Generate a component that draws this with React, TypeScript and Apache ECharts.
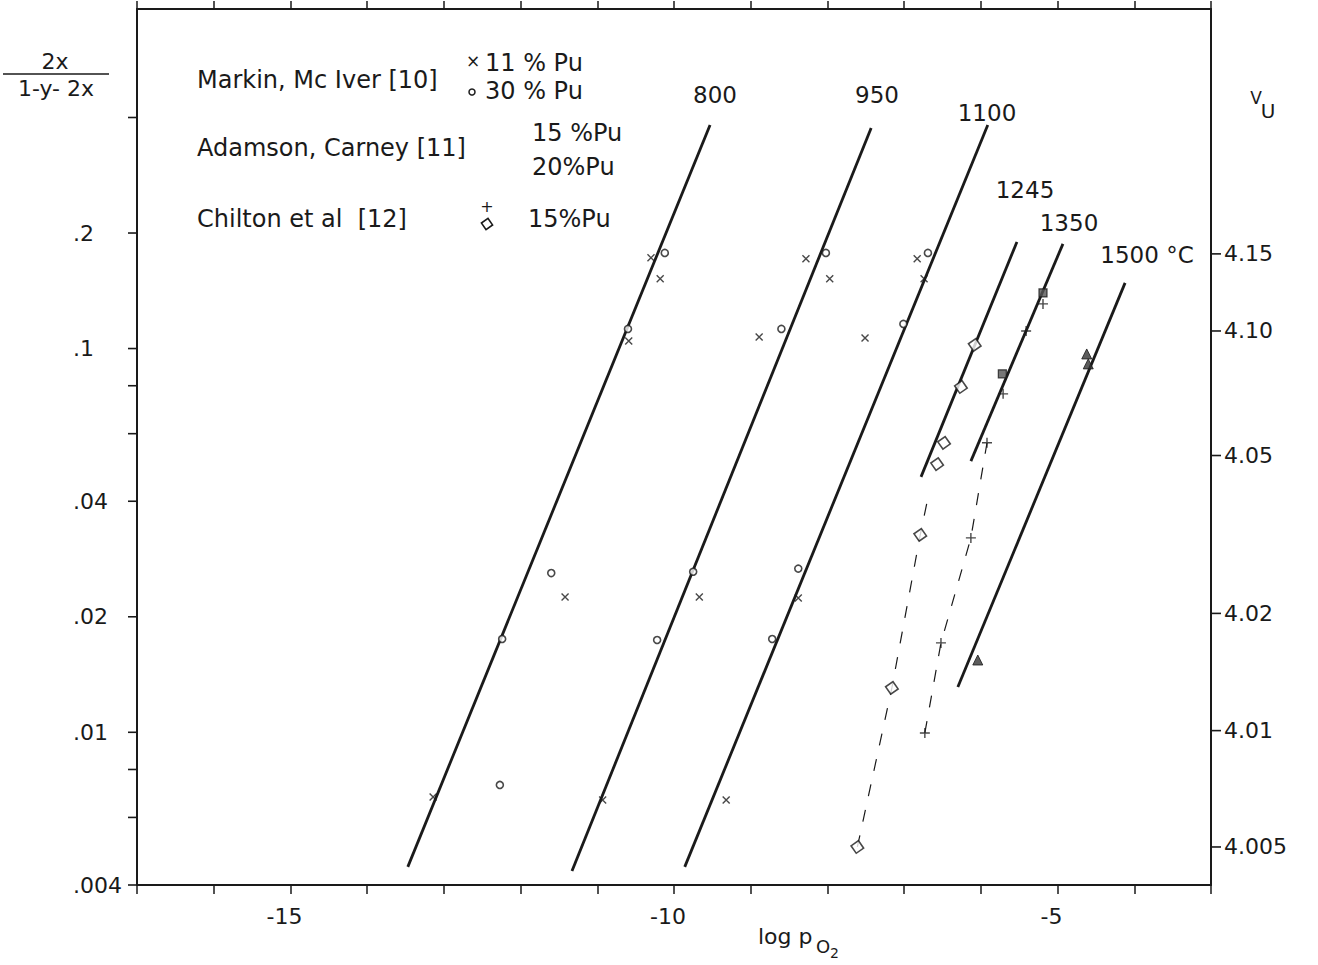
import React, { useEffect, useRef } from "react";
import * as echarts from "echarts";

const INK = "#1a1a1a";
const FONT = "'DejaVu Sans', 'Liberation Sans', sans-serif";

// Axis ranges
const X_MIN = -17;
const X_MAX = -3;
const Y_MIN = 0.004;
const Y_MAX = 0.767;

// Left axis ticks (2x / (1-y-2x))
const leftTickValues = [0.004, 0.006, 0.008, 0.01, 0.02, 0.04, 0.06, 0.08, 0.1, 0.2, 0.4];
const leftTickLabels = [".004", "", "", ".01", ".02", ".04", "", "", ".1", ".2", ""];
// Right axis ticks (V_U)
const rightTickValence = [4.005, 4.01, 4.02, 4.05, 4.1, 4.15];
const rightTickLabels = ["4.005", "4.01", "4.02", "4.05", "4.10", "4.15"];

// Isotherms (solid) [log pO2, 2x/(1-y-2x)]
const iso800 = [[-13.47, 0.00446], [-9.53, 0.3826]];
const iso950 = [[-11.33, 0.00435], [-7.43, 0.3758]];
const iso1100 = [[-9.86, 0.00446], [-5.91, 0.3826]];
const iso1245 = [[-6.78, 0.0463], [-5.53, 0.1896]];
const iso1350 = [[-6.13, 0.0509], [-4.93, 0.1874]];
const iso1500 = [[-6.3, 0.01312], [-4.12, 0.1483]];

// Dashed curves through Chilton data
const dashed1245 = [[-7.61, 0.005025], [-7.16, 0.01305], [-6.79, 0.0327], [-6.69, 0.0408]];
const dashed1350 = [[-6.73, 0.00996], [-6.52, 0.0171], [-6.13, 0.0321], [-5.92, 0.0568]];

// Markin, McIver: x = 11 % Pu
const markin11 = [
  [-13.14, 0.00678], [-11.42, 0.02253], [-10.59, 0.1047], [-10.18, 0.1519], [-10.3, 0.1723],
  [-10.93, 0.00666], [-9.67, 0.02253], [-8.89, 0.1072], [-8.28, 0.1713], [-7.97, 0.1519],
  [-9.32, 0.00666], [-8.38, 0.0224], [-7.51, 0.1066], [-6.83, 0.1713], [-6.74, 0.1519],
];
// Markin, McIver: o = 30 % Pu
const markin30 = [
  [-12.27, 0.00729], [-12.24, 0.0175], [-11.6, 0.026], [-10.6, 0.1125], [-10.12, 0.1775],
  [-10.22, 0.0174], [-9.75, 0.0262], [-8.6, 0.1125], [-8.02, 0.1775],
  [-8.72, 0.0175], [-8.38, 0.0267], [-7.01, 0.1159], [-6.69, 0.1775],
];
// Adamson, Carney
const adamson15 = [[-5.19, 0.1396], [-5.72, 0.0859]];
const adamson20 = [[-4.62, 0.0968], [-4.6, 0.0912], [-6.04, 0.01543]];
// Chilton et al: + and diamond, 15 % Pu
const chiltonPlus = [
  [-6.73, 0.00996], [-6.52, 0.0171], [-6.13, 0.0321], [-5.92, 0.0568],
  [-5.71, 0.0762], [-5.41, 0.1111], [-5.19, 0.1307],
];
const chiltonDiamond = [
  [-7.61, 0.005025], [-7.16, 0.01305], [-6.79, 0.0327], [-6.57, 0.05],
  [-6.48, 0.0568], [-6.26, 0.0794], [-6.08, 0.1022],
];

const CROSS = "path://M0,0L10,10M10,0L0,10";
const PLUS = "path://M5,0L5,10M0,5L10,5";

function solid(data: number[][]) {
  return {
    type: "line",
    data,
    showSymbol: false,
    symbol: "none",
    silent: true,
    z: 2,
    lineStyle: { color: INK, width: 2.8 },
  };
}
function dashed(data: number[][]) {
  return {
    type: "line",
    data,
    showSymbol: false,
    symbol: "none",
    silent: true,
    z: 2,
    lineStyle: { color: INK, width: 1.2, type: [12, 14] },
  };
}

function txt(text: string, x: number, y: number, size: number, align = "left") {
  return {
    type: "text",
    x,
    y,
    style: { text, fill: INK, fontSize: size, fontFamily: FONT, align, verticalAlign: "middle" },
  };
}

export default function App() {
  const ref = useRef<HTMLDivElement>(null);
  useEffect(() => {
    if (!ref.current) return;
    const chart = echarts.init(ref.current, undefined, { renderer: "svg" });
    const option: any = {
      animation: false,
      backgroundColor: "#ffffff",
      grid: { left: 137, right: 107, top: 9, bottom: 80 },
      xAxis: [
        {
          type: "value",
          min: X_MIN,
          max: X_MAX,
          interval: 1,
          position: "bottom",
          axisLine: { lineStyle: { color: INK, width: 2 } },
          axisTick: { show: true, inside: false, length: 9, lineStyle: { color: INK, width: 1.5 } },
          axisLabel: {
            formatter: (v: number) => (v % 5 === 0 ? String(v) : ""),
            color: INK,
            fontSize: 22,
            fontFamily: FONT,
            margin: 20,
            padding: [0, 12, 0, 0],
          },
          splitLine: { show: false },
        },
        {
          type: "value",
          min: X_MIN,
          max: X_MAX,
          interval: 1,
          position: "top",
          axisLine: { lineStyle: { color: INK, width: 2 } },
          axisTick: { show: true, inside: false, length: 8, lineStyle: { color: INK, width: 1.5 } },
          axisLabel: { show: false },
          splitLine: { show: false },
        },
      ],
      yAxis: [
        {
          type: "log",
          logBase: 10,
          min: Y_MIN,
          max: Y_MAX,
          position: "left",
          axisLine: { show: true, lineStyle: { color: INK, width: 2 } },
          axisTick: { show: false },
          axisLabel: { show: false },
          splitLine: { show: false },
        },
        {
          type: "log",
          logBase: 10,
          min: Y_MIN,
          max: Y_MAX,
          position: "right",
          axisLine: { show: true, lineStyle: { color: INK, width: 2 } },
          axisTick: { show: false },
          axisLabel: { show: false },
          splitLine: { show: false },
        },
      ],
      series: [
        solid(iso800),
        solid(iso950),
        solid(iso1100),
        solid(iso1245),
        solid(iso1350),
        solid(iso1500),
        dashed(dashed1245),
        dashed(dashed1350),
        {
          type: "scatter",
          data: markin11,
          symbol: CROSS,
          symbolSize: 7,
          z: 4,
          itemStyle: { color: "none", borderColor: INK, borderWidth: 1.4 },
        },
        {
          type: "scatter",
          data: markin30,
          symbol: "circle",
          symbolSize: 7,
          z: 4,
          itemStyle: { color: "#ffffff", borderColor: INK, borderWidth: 1.6 },
        },
        {
          type: "scatter",
          data: adamson15,
          symbol: "rect",
          symbolSize: 8,
          z: 4,
          itemStyle: { color: "#555555", borderColor: INK, borderWidth: 1.2 },
        },
        {
          type: "scatter",
          data: adamson20,
          symbol: "triangle",
          symbolSize: 10,
          z: 4,
          itemStyle: { color: "#333333", borderColor: INK, borderWidth: 1 },
        },
        {
          type: "scatter",
          data: chiltonPlus,
          symbol: PLUS,
          symbolSize: 10,
          z: 4,
          itemStyle: { color: "none", borderColor: INK, borderWidth: 1.4 },
        },
        {
          type: "scatter",
          data: chiltonDiamond,
          symbol: "rect",
          symbolRotate: 35,
          symbolSize: 9,
          z: 4,
          itemStyle: { color: "#ffffff", borderColor: INK, borderWidth: 1.6 },
        },
        {
          type: "custom",
          silent: true,
          clip: false,
          z: 6,
          data: leftTickValues.map((v) => [X_MIN, v]),
          renderItem: (params: any, api: any) => {
            const i = params.dataIndex;
            const p = api.coord([api.value(0), api.value(1)]);
            const children: any[] = [
              {
                type: "line",
                shape: { x1: p[0] - 9, y1: p[1], x2: p[0], y2: p[1] },
                style: { stroke: INK, lineWidth: 1.6 },
              },
            ];
            if (leftTickLabels[i]) {
              children.push({
                type: "text",
                x: p[0] - 64,
                y: p[1],
                style: {
                  text: leftTickLabels[i],
                  fill: INK,
                  fontSize: 22,
                  fontFamily: FONT,
                  align: "left",
                  verticalAlign: "middle",
                },
              });
            }
            return { type: "group", children };
          },
        },
        {
          type: "custom",
          silent: true,
          clip: false,
          z: 6,
          data: rightTickValence.map((v) => [X_MAX, (v - 4) / (1 - (v - 4))]),
          renderItem: (params: any, api: any) => {
            const i = params.dataIndex;
            const p = api.coord([api.value(0), api.value(1)]);
            return {
              type: "group",
              children: [
                {
                  type: "line",
                  shape: { x1: p[0], y1: p[1], x2: p[0] + 10, y2: p[1] },
                  style: { stroke: INK, lineWidth: 1.6 },
                },
                {
                  type: "text",
                  x: p[0] + 13,
                  y: p[1],
                  style: {
                    text: rightTickLabels[i],
                    fill: INK,
                    fontSize: 22,
                    fontFamily: FONT,
                    align: "left",
                    verticalAlign: "middle",
                  },
                },
              ],
            };
          },
        },
      ],
      graphic: [
        // Y-axis title (fraction)
        txt("2x", 55, 61, 22, "center"),
        { type: "line", shape: { x1: 3, y1: 74, x2: 109, y2: 74 }, style: { stroke: INK, lineWidth: 1.6 } },
        txt("1-y- 2x", 56, 88, 22, "center"),
        // Right axis title V_U
        txt("V", 1256, 98, 17, "center"),
        txt("U", 1268, 111, 20, "center"),
        // X-axis title log p_O2
        txt("log p", 758, 936, 22, "left"),
        txt("O", 816, 946, 18, "left"),
        txt("2", 830, 953, 14, "left"),
        // Legend
        txt("Markin, Mc Iver [10]", 197, 80, 24),
        txt("×", 473, 61, 17, "center"),
        txt("11 % Pu", 485, 63, 24),
        { type: "circle", shape: { cx: 472, cy: 92, r: 3 }, style: { fill: "#fff", stroke: INK, lineWidth: 1.5 } },
        txt("30 % Pu", 485, 91, 24),
        txt("Adamson, Carney [11]", 197, 148, 24),
        txt("15 %Pu", 532, 133, 24),
        txt("20%Pu", 532, 167, 24),
        txt("Chilton et al  [12]", 197, 219, 24),
        txt("+", 487, 206, 16, "center"),
        {
          type: "rect",
          x: 487,
          y: 224,
          rotation: (35 * Math.PI) / 180,
          shape: { x: -4, y: -4, width: 8, height: 8 },
          style: { fill: "#fff", stroke: INK, lineWidth: 1.6 },
        },
        txt("15%Pu", 528, 219, 24),
        // Isotherm labels
        txt("800", 715, 95, 23, "center"),
        txt("950", 877, 95, 23, "center"),
        txt("1100", 987, 113, 23, "center"),
        txt("1245", 1025, 190, 23, "center"),
        txt("1350", 1069, 223, 23, "center"),
        txt("1500 °C", 1147, 255, 23, "center"),
      ],
    };
    chart.setOption(option);
    return () => chart.dispose();
  }, []);
  return (
    <div
      ref={ref}
      style={{ position: "fixed", left: 0, top: 0, width: 1318, height: 965, background: "#fff" }}
    />
  );
}
